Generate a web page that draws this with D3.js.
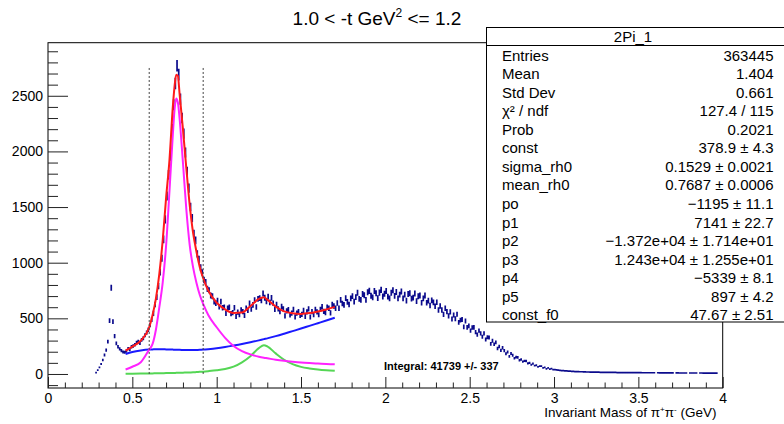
<!DOCTYPE html>
<html><head><meta charset="utf-8">
<script src="https://cdn.jsdelivr.net/npm/d3@7"></script>
<style>
body{margin:0;background:#fff}
svg{display:block}
text{font-family:"Liberation Sans",Arial,Helvetica,sans-serif}
</style>
</head><body><svg id="c" width="784" height="424"></svg>
<script>
// ---------------- data ----------------
const titleMain = "1.0 < -t GeV";
const titleSup = "2";
const titleEnd = " <= 1.2";
const xTitle = ["Invariant Mass of π", "+", "π", "-", " (GeV)"];
const binLow0 = 0.28, binWidth = 0.01;
// bin contents, 0.28 .. 0.45
const countsThreshold = [12,35,60,90,125,170,215,290,480,775,470,340,275,245,225,210,198,195];
// 0.46 .. 0.99
const countsRho = [205,228,220,245,252,262,281,290,278,306,322,348,372,398,440,490,545,625,690,790,
  915,1040,1210,1390,1600,1790,1960,2200,2420,2610,2770,2690,2470,2300,2160,1990,1820,1670,1500,1400,
  1260,1200,1080,1030,955,910,845,825,765,752,705,698,650,635];
// 1.00 .. 1.99
const countsF2 = [660,603,651,595,600,545,592,599,542,551,595,517,556,532,575,560,527,591,572,635,
  583,621,664,602,675,682,662,724,685,652,695,642,684,635,582,625,585,561,607,584,
  522,567,578,530,547,580,513,547,561,525,535,571,517,559,585,512,560,533,581,559,
  532,581,604,563,551,600,590,550,625,610,591,638,590,667,634,621,682,648,624,679,
  700,650,690,730,675,665,719,708,666,734,747,703,689,745,725,681,731,756,696,720];
// 2.00 .. 2.99
const countsBump = [745,695,679,729,753,702,736,679,713,741,680,713,660,718,726,678,686,723,655,698,
  705,640,680,705,640,660,616,662,643,609,645,575,610,575,535,590,561,522,558,494,
  530,496,537,463,484,490,423,476,419,432,390,417,419,376,353,390,365,335,365,310,
  330,328,271,299,267,285,229,248,212,236,210,181,197,158,184,168,141,152,149,124,
  131,111,118,116,95,99,83,93,75,78,64,71,70,55,59,46,54,43,48,39];
// 3.00 .. 3.99
const countsTail = [39,37,35,33,31,30,28,27,26,25,24,23,22,22,21,20,20,19,19,18,
  18,17,17,17,16,16,16,15,15,15,15,15,14,14,14,14,14,13,13,13,
  13,13,13,13,12,12,12,12,12,12,12,12,11,11,11,11,11,11,11,11,
  0,11,10,10,10,10,10,10,10,10,10,0,10,10,9,9,9,9,9,0,
  9,9,9,9,9,0,9,9,8,8,8,8,8,8,8,8,8,0,0,0];

// fit curves
const fitX =    [0.46,0.50,0.55,0.60,0.62,0.64,0.66,0.68,0.70,0.72,0.74,0.75,0.76,0.77,0.78,0.80,0.82,0.84,0.86,0.88,0.90,0.92,0.95,1.00,1.05,1.10,1.15,1.20,1.25,1.28,1.30,1.35,1.40,1.45,1.50,1.55,1.60,1.65,1.70];
const fitTotal =[210,245,300,420,530,680,900,1200,1580,1920,2400,2580,2690,2680,2520,2200,1850,1520,1270,1100,960,860,750,640,580,548,552,610,675,690,668,605,562,545,540,547,562,580,603];
const fitRho =  [40,65,105,220,270,400,600,820,1150,1640,2150,2370,2475,2440,2300,1900,1480,1160,960,820,710,630,530,420,325,252,206,176,155,146,141,128,118,110,103,98,94,90,87];
const fitBkg =  [180,198,212,220,221,222,222,222,221,220,219,218,218,217,217,216,215,215,215,216,217,219,223,231,242,255,269,285,302,313,320,340,362,385,408,432,456,480,505];
const fitF0 =   [2,3,4,5,5,6,6,7,8,8,9,9,10,10,11,12,13,14,15,17,19,21,25,33,45,66,105,160,232,258,248,185,128,88,64,50,40,33,28];
const cutLines = [0.60, 0.92];
const cutTop = 2760;

const xMajor = [0,0.5,1,1.5,2,2.5,3,3.5,4];
const xMajorLabels = ["0","0.5","1","1.5","2","2.5","3","3.5","4"];
const yMajor = [0,500,1000,1500,2000,2500];
const yMajorLabels = ["0","500","1000","1500","2000","2500"];

const statsTitle = "2Pi_1";
const statsNames = ["Entries","Mean","Std Dev","χ² / ndf","Prob","const","sigma_rh0","mean_rh0","po","p1","p2","p3","p4","p5","const_f0"];
const statsValues = ["363445","1.404","0.661","127.4 / 115","0.2021","378.9 ± 4.3","0.1529 ± 0.0021","0.7687 ± 0.0006","−1195 ± 11.1","7141 ± 22.7","−1.372e+04 ± 1.714e+01","1.243e+04 ± 1.255e+01","−5339 ± 8.1","897 ± 4.2","47.67 ± 2.51"];
const integralText = "Integral: 41739 +/- 337";

// ---------------- drawing ----------------
const svg = d3.select("#c");
const X0 = 48, X1 = 722.7, Y0 = 388, Y1 = 42.7;
const x = d3.scaleLinear().domain([0,4]).range([X0,X1]);
const y = d3.scaleLinear().domain([-126,2977]).range([Y0,Y1]);

svg.append("rect").attr("width",784).attr("height",424).attr("fill","#fff");

const counts = [].concat(countsThreshold, countsRho, countsF2, countsBump, countsTail);
const bins = counts.map((v,i)=>({lo: binLow0 + i*binWidth, hi: binLow0 + (i+1)*binWidth, v}));

// frame
svg.append("rect").attr("x",X0).attr("y",Y1).attr("width",X1-X0).attr("height",Y0-Y1)
  .attr("fill","none").attr("stroke","#000").attr("stroke-width",1);

// axes
const tickCol = "#222";
const xMinor = d3.range(0,4.0001,0.1).filter(t=>Math.abs(t*2-Math.round(t*2))>1e-6);
svg.append("g").attr("transform",`translate(0,${Y0})`)
  .call(d3.axisBottom(x).tickValues(xMinor).tickSize(-5.5).tickFormat(""))
  .call(g=>{g.select(".domain").remove(); g.selectAll("line").attr("stroke",tickCol);});
svg.append("g").attr("transform",`translate(0,${Y0})`)
  .call(d3.axisBottom(x).tickValues(xMajor).tickSize(-11).tickPadding(5).tickFormat((d,i)=>xMajorLabels[i]))
  .call(g=>{g.select(".domain").remove(); g.selectAll("line").attr("stroke",tickCol);
    g.selectAll("text").attr("font-size",14).attr("fill","#000").attr("font-family","Liberation Sans, Arial, sans-serif");});

const yMinor = d3.range(-100,2901,100).filter(t=>t%500!==0);
svg.append("g").attr("transform",`translate(${X0},0)`)
  .call(d3.axisLeft(y).tickValues(yMinor).tickSize(-10).tickFormat(""))
  .call(g=>{g.select(".domain").remove(); g.selectAll("line").attr("stroke",tickCol);});
svg.append("g").attr("transform",`translate(${X0},0)`)
  .call(d3.axisLeft(y).tickValues(yMajor).tickSize(-20).tickPadding(5).tickFormat((d,i)=>yMajorLabels[i]))
  .call(g=>{g.select(".domain").remove(); g.selectAll("line").attr("stroke",tickCol);
    g.selectAll("text").attr("font-size",14).attr("fill","#000").attr("font-family","Liberation Sans, Arial, sans-serif");});

// histogram with error bars
let hp = "";
bins.forEach(b=>{
  if (b.v<=0) return;
  const e = Math.sqrt(b.v), xc = (b.lo+b.hi)/2;
  hp += `M${x(b.lo)},${y(b.v)}H${x(b.hi)}`;
  hp += `M${x(xc)},${y(b.v-e)}V${y(b.v+e)}`;
});
svg.append("path").attr("d",hp).attr("fill","none").attr("stroke","#0b0b8c").attr("stroke-width",1.7);

// fit curves
const line = d3.line().x(d=>x(d[0])).y(d=>y(d[1])).curve(d3.curveMonotoneX);
function curve(vals,col,w){
  svg.append("path").attr("d",line(fitX.map((fx,i)=>[fx,vals[i]])))
    .attr("fill","none").attr("stroke",col).attr("stroke-width",w);
}
curve(fitF0,"#55d655",2);
curve(fitBkg,"#1a1aff",2);
curve(fitRho,"#ff22ff",2);
curve(fitTotal,"#ff1a1a",2);

// cut lines
cutLines.forEach(c=>{
  svg.append("line").attr("x1",x(c)).attr("x2",x(c)).attr("y1",y(0)).attr("y2",y(cutTop))
    .attr("stroke","#444").attr("stroke-width",1).attr("stroke-dasharray","2,2");
});

// integral text
svg.append("text").attr("x",384).attr("y",370).attr("font-size",11).attr("font-weight","bold")
  .attr("fill","#000").text(integralText);

// title
const t = svg.append("text").attr("x",377).attr("y",25).attr("text-anchor","middle").attr("font-size",19).attr("fill","#000");
t.append("tspan").text(titleMain);
t.append("tspan").attr("font-size",12).attr("dy",-8).text(titleSup);
t.append("tspan").attr("dy",8).text(titleEnd);

// x title
const xt = svg.append("text").attr("x",716.5).attr("y",417).attr("text-anchor","end").attr("font-size",13.5).attr("fill","#000");
xt.append("tspan").text(xTitle[0]);
xt.append("tspan").attr("font-size",8).attr("dy",-5).text(xTitle[1]);
xt.append("tspan").attr("dy",5).text(xTitle[2]);
xt.append("tspan").attr("font-size",8).attr("dy",-5).text(xTitle[3]);
xt.append("tspan").attr("dy",5).text(xTitle[4]);

// stats box
const bx = 486.5, by = 27.5, bw = 310, bh = 294.5;
svg.append("rect").attr("x",bx).attr("y",by).attr("width",bw).attr("height",bh)
  .attr("fill","#fff").attr("stroke","#000").attr("stroke-width",1);
svg.append("line").attr("x1",bx).attr("x2",784).attr("y1",45.5).attr("y2",45.5).attr("stroke","#000");
svg.append("text").attr("x",633).attr("y",42).attr("text-anchor","middle").attr("font-size",15).text(statsTitle);
statsNames.forEach((n,i)=>{
  const yy = 60.5 + i*18.57;
  svg.append("text").attr("x",502).attr("y",yy).attr("font-size",15).text(n);
  svg.append("text").attr("x",773.5).attr("y",yy).attr("text-anchor","end").attr("font-size",15).text(statsValues[i]);
});
</script></body></html>
